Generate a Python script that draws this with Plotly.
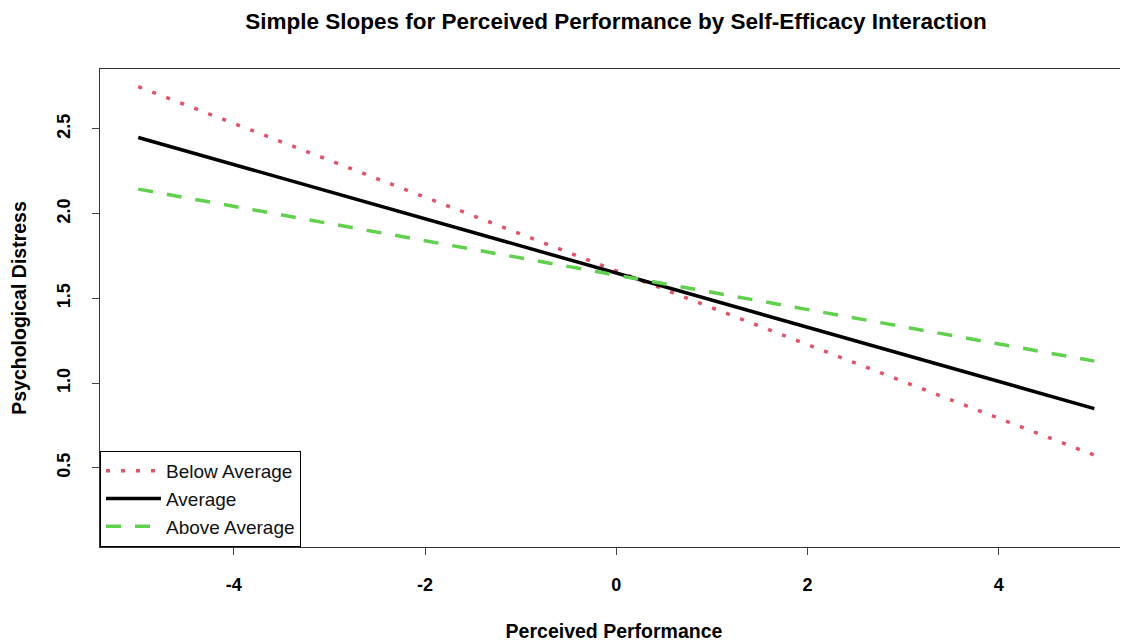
import plotly.graph_objects as go

# Data
x_vals = [-5, 5]
below_avg = [2.75, 0.575]
average = [2.45, 0.85]
above_avg = [2.145, 1.13]
series_names = ["Below Average", "Average", "Above Average"]
x_ticks = [-4, -2, 0, 2, 4]
y_ticks = [0.5, 1.0, 1.5, 2.0, 2.5]

FONT = "Liberation Sans, Arial, sans-serif"

fig = go.Figure()
fig.add_trace(go.Scatter(x=x_vals, y=below_avg, mode="lines", name=series_names[0],
                         line=dict(color="#DF536B", width=3.5, dash="4px,11px")))
fig.add_trace(go.Scatter(x=x_vals, y=average, mode="lines", name=series_names[1],
                         line=dict(color="black", width=3.5)))
fig.add_trace(go.Scatter(x=x_vals, y=above_avg, mode="lines", name=series_names[2],
                         line=dict(color="#61D04F", width=3.5, dash="15px,14px")))

# page body has an 8px margin, so the figure is sized to fit the window exactly
fig.update_layout(
    width=1120, height=636,
    margin=dict(l=92, r=0, t=61, b=97),
    plot_bgcolor="white", paper_bgcolor="white",
    font=dict(family=FONT, color="black"),
    title=dict(text="<b>Simple Slopes for Perceived Performance by Self-Efficacy Interaction</b>",
               x=0.502, xref="paper", xanchor="center", y=0.9796, yanchor="middle",
               font=dict(size=22.5, family=FONT, color="black")),
    showlegend=True,
    legend=dict(x=0, y=0, xanchor="left", yanchor="bottom", bordercolor="black",
                borderwidth=1, bgcolor="white", font=dict(size=19, family=FONT, color="#111"),
                itemwidth=55, tracegroupgap=0, entrywidth=140, entrywidthmode="pixels"),
)
fig.update_xaxes(
    range=[-5.40, 5.352], tickvals=x_ticks, ticktext=[str(v) for v in x_ticks],
    showgrid=False, zeroline=False, showline=True, mirror=True, linecolor="#333", linewidth=1.3,
    ticks="outside", ticklen=7, tickcolor="#444", tickwidth=1.3,
    tickfont=dict(size=18, family=FONT, color="black", weight="bold"),
    ticklabelstandoff=14,
    title=dict(text="<b>Perceived Performance</b>", font=dict(size=19.5, family=FONT, color="black"), standoff=30),
)
fig.update_yaxes(
    range=[0.033, 2.854], tickvals=y_ticks, ticktext=[f"{v:.1f}" for v in y_ticks],
    showgrid=False, zeroline=False, showline=True, mirror=False, linecolor="#333", linewidth=1.3,
    ticks="outside", ticklen=7, tickcolor="#444", tickwidth=1.3, tickangle=-90,
    tickfont=dict(size=18, family=FONT, color="black", weight="bold"),
    ticklabelstandoff=15,
    title=dict(text="<b>Psychological Distress</b>", font=dict(size=19.5, family=FONT, color="black"), standoff=26),
)

fig.write_html("out.html")
